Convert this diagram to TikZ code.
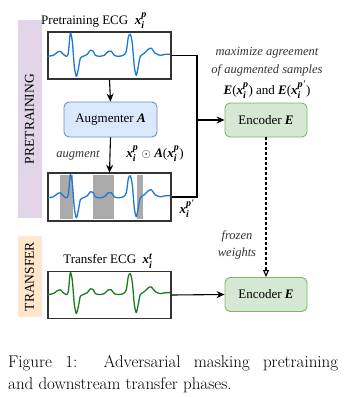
\documentclass[tikz,border=0pt]{standalone}
\usepackage{amsmath}
\usepackage{fontspec}
\newfontfamily\dfont{Liberation Serif}
\usetikzlibrary{arrows.meta}
\definecolor{sigblue}{HTML}{1F78D1}
\definecolor{siggreen}{HTML}{1E7B1E}
\definecolor{augfill}{HTML}{DAE8FC}
\definecolor{augdraw}{HTML}{6C8EBF}
\definecolor{encfill}{HTML}{D5E8D4}
\definecolor{encdraw}{HTML}{82B366}
\definecolor{prebar}{HTML}{E1D5E7}
\definecolor{trbar}{HTML}{FFE6CC}
\definecolor{maskgray}{HTML}{AAAAAA}
\definecolor{boxgray}{HTML}{333333}
\newcommand\bi[1]{\textbf{\textit{#1}}}
\newcommand\scr[1]{\mbox{\fontsize{10}{10}\selectfont\bi{#1}}}
\newcommand\xv[1]{$\bi{x}_{\scr{i}}^{\scr{#1}}$}
\begin{document}
\begin{tikzpicture}[x=1pt,y=-1pt,
  font=\dfont\fontsize{13}{15}\selectfont,
  ecgbox/.style={draw=boxgray, line width=1.4pt, fill=white, minimum width=123pt, minimum height=47pt, inner sep=0pt},
  augbox/.style={draw=augdraw, fill=augfill, rounded corners=5pt, line width=0.9pt, minimum width=93pt, minimum height=35pt},
  encbox/.style={draw=encdraw, fill=encfill, rounded corners=5pt, line width=0.9pt, minimum width=82pt, minimum height=34pt},
  bar/.style={minimum width=24pt, inner sep=0pt},
  conn/.style={line width=1.1pt, draw=black},
  arr/.style={conn, -{Stealth[length=8pt,width=7pt]}},
  lbl/.style={inner sep=1pt},
  itl/.style={lbl, font=\dfont\itshape\fontsize{12.5}{16.5}\selectfont, text=black!80},
  ecg/.pic={\draw[pic actions, line width=1.3pt, line join=round] plot[smooth, tension=0.45] coordinates {
    (0,25) (6,24) (10,21) (13,20) (16,23) (19,25) (21,22) (23,2) (25,10) (27,35) (29,45) (31,38) (33,27) (36,25) (40,23) (43,19) (46,20) (48,24) (52,25) (57,24) (61,20) (64,20) (67,24) (71,25) (76,24) (79,20) (81,6) (83,3) (85,12) (87,35) (89,44) (91,35) (93,25) (97,22) (101,18) (104,17) (108,22) (113,24) (118,23) (123,23)};}
]
\useasboundingbox (0,0) rectangle (347,397);

% phase bars
\node[bar, fill=prebar, minimum height=198pt] (pbar) at (29.5,119) {};
\node[rotate=90, font=\dfont\fontsize{13.5}{15}\selectfont] (ptext) at (pbar.center) {PRETRAINING};
\node[bar, fill=trbar, minimum height=81pt] (tbar) at (29.5,276.5) {};
\node[rotate=90, font=\dfont\fontsize{13.5}{15}\selectfont] (ttext) at (tbar.center) {TRANSFER};

% ECG boxes
\node[ecgbox] (ecg1) at (109.5,55.5) {};
\pic[draw=sigblue] at (ecg1.north west) {ecg};
\node[lbl] (t1) at (94,21) {Pretraining ECG \ \xv{p}};

\node[ecgbox] (ecg2) at (109.5,197) {};
\fill[maskgray] (60,174.7) rectangle (73,219.3);
\fill[maskgray] (93,174.7) rectangle (114,219.3);
\fill[maskgray] (137,174.7) rectangle (143,219.3);
\pic[draw=sigblue] at (ecg2.north west) {ecg};
\draw[boxgray, line width=1.4pt] (ecg2.north west) rectangle (ecg2.south east);

\node[ecgbox] (ecg3) at (109.5,295) {};
\pic[draw=siggreen, yscale=0.95] at (ecg3.north west) {ecg};
\node[lbl] (t3) at (108,261) {Transfer ECG \ \xv{t}};

% boxes
\node[augbox] (aug) at (110.5,119.5) {Augmenter \bi{A}};
\node[encbox] (enc1) at (266,120) {Encoder \bi{E}};
\node[encbox] (enc2) at (266,294.5) {Encoder \bi{E}};

% connectors
\coordinate (j) at (197,120);
\draw[arr] (ecg1.south) -- (aug.north);
\draw[arr] (aug.south) -- (ecg2.north);
\draw[arr] (ecg1.east) -| (j) -- (enc1.west);
\draw[conn] (ecg2.east) -| (j);
\draw[conn, dashed, dash pattern=on 3pt off 2pt, -{Triangle[open, length=7pt, width=6pt]}] (enc1.south) -- (enc2.north);
\draw[arr] (ecg3.east) -- (enc2.west);

% labels
\node[itl] (augl) at (78,155) {augment};
\node[lbl] (augf) at (155,154) {\xv{p} $\odot$ \bi{A}(\xv{p})};
\node[lbl] (xpp) at (187,209) {\xv{p'}};
\node[itl] (m1) at (267,53) {maximize agreement};
\node[itl] (m2) at (267,70) {of augmented samples};
\node[lbl] (m3) at (267,90) {\bi{E}(\xv{p}) and \bi{E}(\xv{p'})};
\node[itl, align=center] (fw) at (237,245) {frozen\\weights};

% caption
\node[anchor=north west, inner sep=0pt, text width=330pt, align=justify, font=\rmfamily\fontsize{17}{22.5}\selectfont] (cap) at (8,355) {Figure 1:\ \ Adversarial masking pretraining\linebreak and downstream transfer phases.};
\end{tikzpicture}
\end{document}
